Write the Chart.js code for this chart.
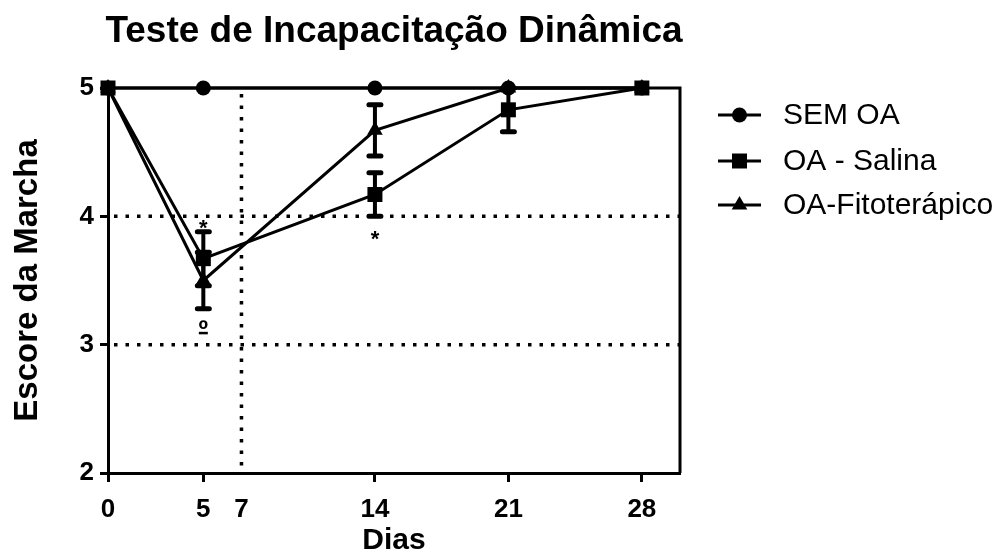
<!DOCTYPE html>
<html lang="pt">
<head>
    <meta charset="UTF-8">
    <title>Teste de Incapacitação Dinâmica</title>
    <style>
        body { margin: 0; background: #fff; }
        #wrap { position: relative; width: 1003px; height: 553px; }
    </style>
</head>
<body>
    <div id="wrap">
        <canvas id="chart"></canvas>
    </div>

    <script src="https://cdn.jsdelivr.net/npm/chart.js@4.4.0/dist/chart.umd.min.js"></script>

    <script>
        // dados
        const dias = [0, 5, 14, 21, 28];
        const semOA = [5, 5, 5, 5, 5];
        const semOAErr = [0, 0, 0, 0, 0];
        const salina = [5, 3.67, 4.17, 4.83, 5];
        const salinaErr = [0, 0.21, 0.17, 0.17, 0];
        const fito = [5, 3.5, 4.67, 5, 5];
        const fitoErr = [0, 0.22, 0.2, 0, 0];

        const xTicks = [0, 5, 7, 14, 21, 28];
        const refX = [7];
        const refY = [3, 4];
        const notas = [
            { x: 5, y: 3.93, t: '*' },
            { x: 5, y: 3.1, t: 'º' },
            { x: 14, y: 3.85, t: '*' }
        ];

        const FONT = '"Liberation Sans", Arial, sans-serif';

        const pts = (ys) => dias.map((d, i) => ({ x: d, y: ys[i] }));

        const series = [
            { label: 'SEM OA', data: pts(semOA), err: semOAErr, pointStyle: 'circle', pointRadius: 7.5, order: 1 },
            { label: 'OA - Salina', data: pts(salina), err: salinaErr, pointStyle: 'rect', pointRadius: 10.6, order: 0 },
            { label: 'OA-Fitoterápico', data: pts(fito), err: fitoErr, pointStyle: 'triangle', pointRadius: 9, order: 2 }
        ];

        function marker(ctx, style, x, y, r) {
            ctx.beginPath();
            if (style === 'circle') {
                ctx.arc(x, y, r, 0, Math.PI * 2);
            } else if (style === 'rect') {
                const s = r / Math.SQRT2;
                ctx.rect(x - s, y - s, 2 * s, 2 * s);
            } else {
                ctx.moveTo(x, y - r);
                ctx.lineTo(x + r * Math.sin(Math.PI / 3), y + r / 2);
                ctx.lineTo(x - r * Math.sin(Math.PI / 3), y + r / 2);
                ctx.closePath();
            }
            ctx.fill();
        }

        const extras = {
            id: 'extras',
            beforeDatasetsDraw(chart) {
                const { ctx, chartArea: a, scales: { x, y } } = chart;
                ctx.save();
                // linhas pontilhadas
                ctx.strokeStyle = '#000';
                ctx.lineWidth = 3.5;
                ctx.setLineDash([3.5, 8]);
                refY.forEach(v => {
                    const py = y.getPixelForValue(v);
                    ctx.beginPath();
                    ctx.moveTo(a.left + 6, py);
                    ctx.lineTo(a.right, py);
                    ctx.stroke();
                });
                refX.forEach(v => {
                    const px = x.getPixelForValue(v);
                    ctx.beginPath();
                    ctx.moveTo(px, a.top + 6);
                    ctx.lineTo(px, a.bottom);
                    ctx.stroke();
                });
                ctx.setLineDash([]);

                // barras de erro
                series.forEach((s) => {
                    s.data.forEach((p, i) => {
                        const e = s.err[i];
                        if (!e) return;
                        const px = x.getPixelForValue(p.x);
                        const hi = y.getPixelForValue(p.y + e);
                        const lo = y.getPixelForValue(p.y - e);
                        ctx.lineWidth = 4;
                        ctx.lineCap = 'butt';
                        ctx.beginPath();
                        ctx.moveTo(px, hi);
                        ctx.lineTo(px, lo);
                        ctx.stroke();
                        ctx.lineWidth = 5;
                        ctx.lineCap = 'round';
                        ctx.beginPath();
                        ctx.moveTo(px - 6, hi); ctx.lineTo(px + 6, hi);
                        ctx.moveTo(px - 6, lo); ctx.lineTo(px + 6, lo);
                        ctx.stroke();
                    });
                });
                ctx.restore();
            },
            afterDraw(chart) {
                const { ctx, chartArea: a, scales: { x, y } } = chart;
                ctx.save();
                ctx.fillStyle = '#000';
                ctx.strokeStyle = '#000';

                // moldura superior e direita
                ctx.lineWidth = 3;
                ctx.beginPath();
                ctx.moveTo(a.left, a.top);
                ctx.lineTo(a.right, a.top);
                ctx.lineTo(a.right, a.bottom);
                ctx.stroke();

                // anotações
                ctx.textAlign = 'center';
                ctx.textBaseline = 'middle';
                notas.forEach(n => {
                    ctx.font = (n.t === '*' ? 'bold 22px ' : 'bold 26px ') + FONT;
                    const px = x.getPixelForValue(n.x);
                    const py = y.getPixelForValue(n.y);
                    if (n.t === '*') {
                        ctx.fillText(n.t, px, py + 4);
                    } else {
                        ctx.fillText(n.t, px, py - 1);
                        ctx.fillRect(px - 4.5, py, 9, 2.5); // sublinhado do º
                    }
                });

                // título
                ctx.font = 'bold 37px ' + FONT;
                ctx.textBaseline = 'alphabetic';
                ctx.fillText('Teste de Incapacitação Dinâmica', (a.left + a.right) / 2, 42);

                // eixo x
                ctx.font = 'bold 30px ' + FONT;
                ctx.fillText('Dias', (a.left + a.right) / 2, 549);

                // eixo y
                ctx.save();
                ctx.translate(37, (a.top + a.bottom) / 2);
                ctx.rotate(-Math.PI / 2);
                ctx.font = 'bold 33px ' + FONT;
                ctx.fillText('Escore da Marcha', 0, 0);
                ctx.restore();

                // legenda
                const rows = [115, 161, 205];
                ctx.textAlign = 'left';
                ctx.textBaseline = 'middle';
                ctx.font = '30px ' + FONT;
                series.forEach((s, i) => {
                    const ly = rows[i];
                    ctx.lineWidth = 3;
                    ctx.beginPath();
                    ctx.moveTo(718, ly);
                    ctx.lineTo(761, ly);
                    ctx.stroke();
                    marker(ctx, s.pointStyle, 739.5, ly, s.pointRadius);
                    ctx.fillText(s.label, 783, ly + 1);
                });
                ctx.restore();
            }
        };

        const tickFont = { family: FONT, size: 26, weight: 'bold' };

        new Chart(document.getElementById('chart'), {
            type: 'line',
            data: {
                datasets: series.map(s => ({
                    label: s.label,
                    data: s.data,
                    borderColor: '#000',
                    backgroundColor: '#000',
                    borderWidth: 3,
                    pointStyle: s.pointStyle,
                    pointRadius: s.pointRadius,
                    pointBackgroundColor: '#000',
                    pointBorderWidth: 0,
                    tension: 0,
                    order: s.order,
                    clip: false
                }))
            },
            options: {
                responsive: true,
                maintainAspectRatio: false,
                animation: false,
                events: [],
                layout: { padding: { left: 0, top: 88, right: 323, bottom: 0 } },
                plugins: {
                    legend: { display: false },
                    tooltip: { enabled: false }
                },
                scales: {
                    x: {
                        type: 'linear',
                        min: 0,
                        max: 30,
                        afterBuildTicks: (scale) => { scale.ticks = xTicks.map(v => ({ value: v })); },
                        afterFit: (scale) => { scale.height = 80; },
                        ticks: { font: tickFont, color: '#000', padding: 12, maxRotation: 0, autoSkip: false },
                        grid: {
                            drawOnChartArea: false,
                            drawTicks: true,
                            tickLength: 9,
                            tickWidth: 3,
                            tickColor: (c) => (c.tick && c.tick.value === 7) ? 'rgba(0,0,0,0)' : '#000'
                        },
                        border: { color: '#000', width: 3 }
                    },
                    y: {
                        min: 2,
                        max: 5,
                        afterFit: (scale) => { scale.width = 108; },
                        ticks: { stepSize: 1, font: tickFont, color: '#000', padding: 6 },
                        grid: {
                            drawOnChartArea: false,
                            drawTicks: true,
                            tickLength: 8,
                            tickWidth: 3,
                            tickColor: '#000'
                        },
                        border: { color: '#000', width: 3 }
                    }
                }
            },
            plugins: [extras]
        });
    </script>
</body>
</html>
